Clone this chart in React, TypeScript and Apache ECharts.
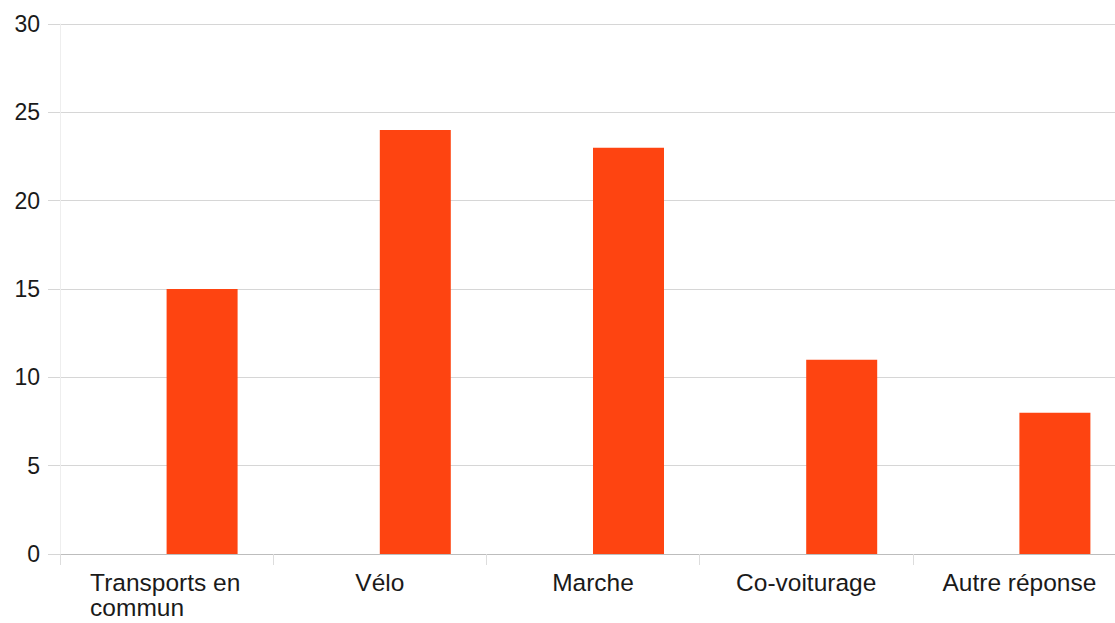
import React, { useEffect, useRef } from "react";
import * as echarts from "echarts";

const categories = ["Transports en commun", "Vélo", "Marche", "Co-voiturage", "Autre réponse"];
const responseValues = [15, 24, 23, 11, 8];
const emptyValues = [null, null, null, null, null];
const yTicks = { min: 0, max: 30, interval: 5 };

const FONT = "'Liberation Sans', Arial, sans-serif";

export default function App() {
  const ref = useRef<HTMLDivElement>(null);
  useEffect(() => {
    if (!ref.current) return;
    const chart = echarts.init(ref.current, null, { renderer: "svg" });
    chart.setOption({
      animation: false,
      backgroundColor: "#ffffff",
      textStyle: { fontFamily: FONT },
      grid: { left: 60, right: 0, top: 24, bottom: 69, containLabel: false },
      xAxis: {
        type: "category",
        data: categories,
        boundaryGap: true,
        axisLine: { show: true, lineStyle: { color: "#bdbdbd", width: 1 } },
        axisTick: { show: true, length: 11, lineStyle: { color: "#dddddd" } },
        axisLabel: {
          color: "#1a1a1a",
          fontSize: 24.5,
          fontFamily: FONT,
          margin: 16,
          interval: 0,
          lineHeight: 25,
          formatter: (v: string) => {
            if (v === "Transports en commun") {
              return "{l|Transports en}\n{l|commun}";
            }
            return v;
          },
          rich: {
            l: { width: 153, align: "left", fontSize: 24.5, color: "#1a1a1a", fontFamily: FONT, lineHeight: 25 },
          },
        },
      },
      yAxis: {
        type: "value",
        min: yTicks.min,
        max: yTicks.max,
        interval: yTicks.interval,
        axisLine: { show: true, lineStyle: { color: "#eeeeee" } },
        axisTick: { show: true, length: 12, lineStyle: { color: "#d6d6d6" } },
        splitLine: { show: true, lineStyle: { color: "#d6d6d6", width: 1 } },
        axisLabel: { color: "#1a1a1a", fontSize: 23, fontFamily: FONT, margin: 20 },
      },
      series: [
        {
          type: "bar",
          name: "vide",
          data: emptyValues,
          barWidth: 71,
          barGap: "0%",
          itemStyle: { color: "transparent" },
        },
        {
          type: "bar",
          name: "Réponses",
          data: responseValues,
          barWidth: 71,
          barGap: "0%",
          itemStyle: { color: "#fe4411" },
        },
      ],
    });
    return () => chart.dispose();
  }, []);
  return (
    <div
      style={{
        position: "absolute",
        left: 0,
        top: 0,
        width: 1115,
        height: 623,
        overflow: "hidden",
        background: "#ffffff",
      }}
    >
      <div ref={ref} style={{ width: 1126, height: 623 }} />
    </div>
  );
}
